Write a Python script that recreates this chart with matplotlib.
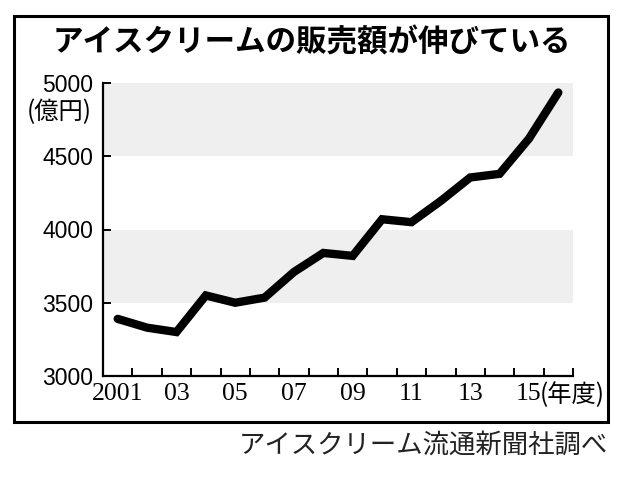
import matplotlib
matplotlib.use("Agg")
import matplotlib.pyplot as plt
from matplotlib.patches import Rectangle

years = list(range(2001, 2017))
sales = [3390, 3330, 3300, 3550, 3500, 3535, 3710, 3840, 3820, 4070, 4050, 4195, 4355, 4380, 4620, 4935]
ytick_vals = [3000, 3500, 4000, 4500, 5000]
xtick_pos = [2001, 2003, 2005, 2007, 2009, 2011, 2013, 2015]
xtick_labels = ["2001", "03", "05", "07", "09", "11", "13", "15"]
bands = [(3500, 4000), (4500, 5000)]

title = "アイスクリームの販売額が伸びている"
unit = "(億円)"
xunit = "(年度)"
source = "アイスクリーム流通新聞社調べ"

W, H = 620, 478
fig = plt.figure(figsize=(W / 100, H / 100), dpi=100)
fig.patch.set_facecolor("white")

# outer frame
fig.patches.append(Rectangle((14 / W, (H - 422) / H), (608 - 14) / W, (422 - 16) / H,
                             fill=False, lw=2.2, edgecolor="black",
                             transform=fig.transFigure, figure=fig))

ax = fig.add_axes([103 / W, (H - 376) / H, 470 / W, 293 / H])
for lo, hi in bands:
    ax.axhspan(lo, hi, color="#efefef", lw=0, zorder=0)

ax.plot(years, sales, color="black", lw=6.0, solid_capstyle="round",
        solid_joinstyle="miter", zorder=3)

ax.set_xlim(2000.5, 2016.5)
ax.set_ylim(3000, 5000)
for s in ["top", "right"]:
    ax.spines[s].set_visible(False)
for s in ["left", "bottom"]:
    ax.spines[s].set_linewidth(1.6)

ax.set_yticks(ytick_vals)
ax.set_yticklabels([str(v) for v in ytick_vals], fontfamily="Liberation Sans", fontsize=16.5)
ax.tick_params(axis="y", direction="in", length=6, width=1.4, pad=7)

ax.set_xticks(xtick_pos)
ax.set_xticklabels(xtick_labels, fontfamily="Liberation Serif", fontsize=18.5)
ax.set_xticks([y + 0.5 for y in range(2001, 2017)], minor=True)
ax.tick_params(axis="x", which="major", length=0, pad=5)
ax.tick_params(axis="x", which="minor", direction="in", length=6, width=1.4)

ax.annotate(xunit, xy=(2015, 0), xycoords=("data", "axes fraction"),
            xytext=(7.5, -13.5), textcoords="offset points", ha="left", va="center",
            fontsize=17.5, family=["Noto Sans CJK JP", "DejaVu Sans"])

fig.text(92 / W, (H - 112) / H, unit, ha="right", va="center", fontsize=17.5,
         family=["Noto Sans CJK JP", "DejaVu Sans"])

fig.text(312 / W, (H - 42) / H, title, ha="center", va="center", fontsize=22,
         fontweight="bold", family=["Noto Sans CJK JP", "DejaVu Sans"])

fig.text(608 / W, (H - 445) / H, source, ha="right", va="center", fontsize=19,
         color="#222222", family=["Noto Sans CJK JP", "DejaVu Sans"])

fig.savefig("out.png", dpi=100)
